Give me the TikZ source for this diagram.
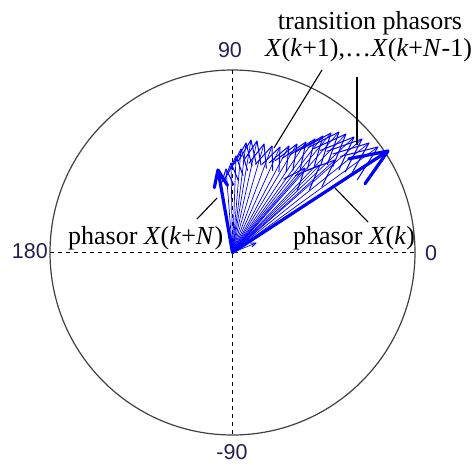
\documentclass[tikz,border=0pt]{standalone}
\usepackage{fontspec}
\setmainfont{Liberation Serif}
\newfontfamily\axfont{Liberation Sans}
\usetikzlibrary{calc}
\definecolor{axiscol}{RGB}{40,30,80}
\definecolor{phblue}{RGB}{0,0,255}
\begin{document}
\begin{tikzpicture}[x=1pt,y=-1pt,
  axisline/.style={black, line width=1.5pt, dash pattern=on 4pt off 4pt},
  rim/.style={black!75, line width=1.2pt},
  phthick/.style={phblue, line width=3.2pt, line join=round, line cap=round},
  phthin/.style={phblue, line width=1pt, line cap=round},
  phshaft/.style={phblue, line width=0.7pt},
  leader/.style={black, line width=1.1pt},
  lbl/.style={font=\fontsize{26}{30}\selectfont, inner sep=0pt},
  axlbl/.style={font=\axfont\fontsize{21.5}{24}\selectfont, text=axiscol, inner sep=0pt}]
\useasboundingbox (0,0) rectangle (474,468);

% polar frame
\coordinate (O) at (232.5,252.5);
\draw[rim] (O) circle[radius=182.5pt];
\coordinate (W) at (50,252.5);
\coordinate (E) at (415,252.5);
\coordinate (N) at (232.5,70);
\coordinate (S) at (232.5,435);
\draw[axisline] (W) -- (E);
\draw[axisline] (N) -- (S);

\node[axlbl, anchor=east] (l180) at (48,251) {180};
\node[axlbl] (l0) at (431,253) {0};
\node[axlbl] (l90) at (230,50) {90};
\node[axlbl] (lm90) at (232,452) {-90};

% transition phasors
\foreach \tx/\ty in {378/147,369/143,362/139,354/137,346/134,339/132,331/133,323/136,315/139,306/142,297/144,289/146,280/147,272/146,264/144,257/141,251/140,246/143,241/149,236/156,231/163,226/169,335/160,320/165,305/168,256/243}{
  \coordinate (tip) at (\tx,\ty);
  \draw[phshaft] (O) -- (tip);
  \draw[phthin] (tip) -- ($(O)!0.8!(tip)!0.4!90:(tip)$)
                (tip) -- ($(O)!0.8!(tip)!0.4!-90:(tip)$);
}

% phasor X(k)
\coordinate (tk) at (388,151);
\draw[phthick] (O) -- (tk) -- ($(O)!0.8!(tk)!0.4!90:(tk)$)
               (tk) -- ($(O)!0.8!(tk)!0.4!-90:(tk)$);
% phasor X(k+N)
\coordinate (tn) at (218,170);
\draw[phthick] (O) -- (tn) -- ($(O)!0.8!(tn)!0.4!90:(tn)$)
               (tn) -- ($(O)!0.8!(tn)!0.4!-90:(tn)$);

% labels
\node[lbl, anchor=base] (tt1) at (370,30) {transition phasors};
\node[lbl, anchor=base] (tt2) at (368.5,57) {\textit{X}(\textit{k}+1),…\textit{X}(\textit{k}+\textit{N}-1)};
\node[lbl, anchor=base west] (pk) at (293,244) {phasor \textit{X}(\textit{k})};
\node[lbl, anchor=base west] (pn) at (68,244) {phasor \textit{X}(\textit{k}+\textit{N})};

% leader lines
\coordinate (a1) at (322,70);  \coordinate (b1) at (274,148);
\coordinate (a2) at (357,77);  \coordinate (b2) at (357,145);
\coordinate (a3) at (368,222); \coordinate (b3) at (335,188);
\coordinate (a4) at (197,219); \coordinate (b4) at (217,198);
\draw[leader] (a1) -- (b1);
\draw[leader] (a2) -- (b2);
\draw[leader] (a3) -- (b3);
\draw[leader] (a4) -- (b4);
\end{tikzpicture}
\end{document}
